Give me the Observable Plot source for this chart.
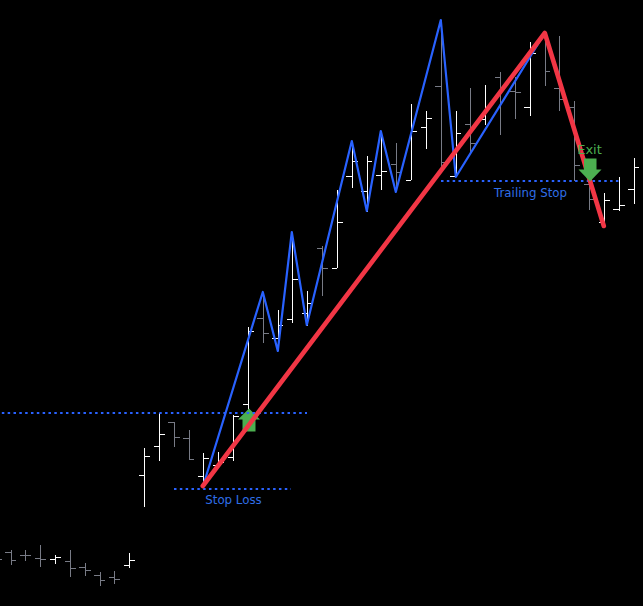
<!DOCTYPE html>
<html>
<head>
<meta charset="utf-8">
<style>html,body{margin:0;padding:0;background:#000;overflow:hidden}svg{display:block}</style>
<script src="https://cdn.jsdelivr.net/npm/d3@7"></script>
<script src="https://cdn.jsdelivr.net/npm/@observablehq/plot@0.6"></script>
</head>
<body>
<script>
// OHLC bars (bar index runs from -1, clipped at the left edge, to 42)
const barIndex = [-1,0,1,2,3,4,5,6,7,8,9,10,11,12,13,14,15,16,17,18,19,20,21,22,23,24,25,26,27,28,29,30,31,32,33,34,35,36,37,38,39,40,41,42];
const highs  = [51,56,56,61,51,56,43,34,35,53,158,193,184,176,153,154,191,279,314,296,371,315,360,416,463,450,474,463,502,495,586,495,518,521,534,529,564,573,570,505,429,413,429,448];
const lows   = [41,41,45,39,42,29,30,20,22,38,99,145,159,146,120,138,145,186,263,255,283,280,310,338,418,394,416,414,426,457,435,429,452,481,471,487,490,520,495,425,396,379,395,402];
const opens  = [49,54,51,48,47,45,39,31,29,41,131,160,184,168,130,141,149,202,288,268,287,293,358,338,430,415,431,442,426,479,520,430,482,487,529,515,499,569,518,499,422,384,397,417];
const closes = [47,46,51,47,49,38,36,26,27,46,150,172,169,147,148,144,190,275,273,281,327,303,338,384,445,445,435,434,475,488,444,473,463,499,519,514,553,535,507,441,407,406,401,439];

// Zigzag pivots
const zigzagIndex = [13,17,18,19,20,23,24,25,26,29,30,36];
const zigzagPrice = [119,314,255,374,281,465,395,475,414,586,429,573];

// Trade path
const tradeIndex = [13,36,40];
const tradePrice = [120,573,380];

// Horizontal levels
const levelNames = ["Breakout","Stop Loss","Trailing Stop"];
const levelFrom  = [-1,11,29];
const levelTo    = [20,18.9,41];
const levelPrice = [193,117,425];

const entryBar = 16, entryPrice = 187;
const exitBar = 39, exitPrice = 437;

const BLUE = "#2962ff", LABEL = "#2f6fe8", RED = "#f23645", GREEN = "#4caf50", WHITE = "#ffffff", GRAY = "#787b86";
const FONT = "'DejaVu Sans', sans-serif";

const bars = barIndex.map((i,k)=>({i,high:highs[k],low:lows[k],open:opens[k],close:closes[k],up:closes[k]>opens[k]}));
const zigzag = zigzagIndex.map((i,k)=>({i,p:zigzagPrice[k]}));
const trade = tradeIndex.map((i,k)=>({i,p:tradePrice[k]}));
const levels = levelNames.map((name,k)=>({name,from:levelFrom[k],to:levelTo[k],p:levelPrice[k]}));

const poly = pts => ({draw(ctx){pts.forEach(([a,b],n)=>n?ctx.lineTo(a,b):ctx.moveTo(a,b));ctx.closePath();}});
const arrowUp = poly([[0.5,-11],[11.5,0],[7,0],[7,12],[-6,12],[-6,0],[-10.5,0]]);
const arrowDown = poly([[7,-11],[7,0],[12,0],[0.5,12],[-11,0],[-5.5,0],[-5.5,-11]]);

const barColor = d => d.up ? WHITE : GRAY;

const chart = Plot.plot({
  width: 643, height: 606,
  marginLeft: 0, marginRight: 0, marginTop: 0, marginBottom: 0,
  style: {background: "#000"},
  x: {domain: [0,42], range: [10.5,633.5], round: true, axis: null},
  y: {domain: [0,606], range: [606,0], round: true, axis: null},
  marks: [
    Plot.ruleX(bars, {x:"i", y1:"low", y2:"high", stroke:barColor, strokeWidth:1}),
    Plot.ruleY(bars, {y:"open", x1:d=>d.i-0.35, x2:"i", stroke:barColor, strokeWidth:1}),
    Plot.ruleY(bars, {y:"close", x1:"i", x2:d=>d.i+0.4, stroke:barColor, strokeWidth:1}),
    Plot.dot([{i:entryBar,p:entryPrice}], {x:"i", y:"p", symbol:arrowUp, fill:GREEN, stroke:"none", r:5}),
    Plot.ruleY(levels, {y:"p", x1:"from", x2:"to", stroke:BLUE, strokeWidth:2, strokeDasharray:"2.5,3.33", dy:-0.5}),
    Plot.line(zigzag, {x:"i", y:"p", stroke:BLUE, strokeWidth:2.2, strokeLinejoin:"round", dx:-0.7, dy:-0.5}),
    Plot.line(trade, {x:"i", y:"p", stroke:RED, strokeWidth:4.6, strokeLinecap:"round", strokeLinejoin:"round", dx:-0.7, dy:-0.5}),
    Plot.dot([{i:exitBar,p:exitPrice}], {x:"i", y:"p", symbol:arrowDown, fill:GREEN, stroke:"none", r:5}),
    Plot.text([{i:15,p:106,t:"Stop Loss"},{i:35,p:413,t:"Trailing Stop"}], {x:"i", y:"p", text:"t", fill:LABEL, fontSize:11.8, fontFamily:FONT}),
    Plot.text([{i:39,p:457,t:"Exit"}], {x:"i", y:"p", text:"t", fill:GREEN, fontSize:13, fontFamily:FONT})
  ]
});
document.body.appendChild(chart);
</script>
</body>
</html>
